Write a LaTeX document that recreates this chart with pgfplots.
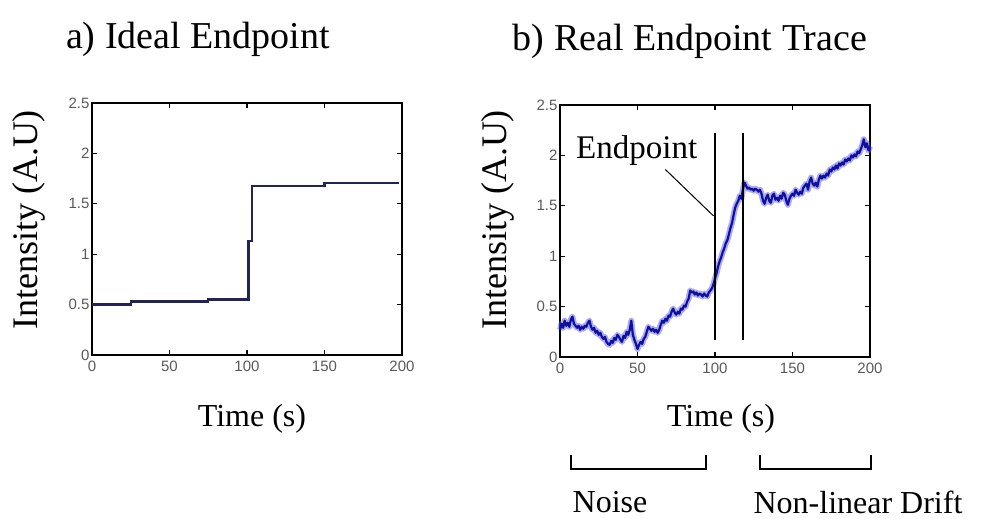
\documentclass[border=0pt]{standalone}
\usepackage{pgfplots}
\pgfplotsset{compat=1.18}
\usepackage{fontspec}
\setmainfont{Liberation Serif}
\newfontfamily\tickfont{Liberation Sans}

\definecolor{stepline}{RGB}{35,35,85}
\definecolor{tracecore}{RGB}{15,15,160}
\definecolor{tracehalo}{RGB}{90,90,230}

\pgfplotsset{
  endpointaxis/.style={
    scale only axis,
    width=310pt, height=252pt,
    anchor=south west,
    xmin=0, xmax=200, ymin=0, ymax=2.5,
    xtick={0,50,100,150,200},
    ytick={0,0.5,1,1.5,2,2.5},
    tick align=inside,
    major tick length=5pt,
    axis line style={line width=1.5pt},
    every tick/.style={line width=1.3pt, black},
    /pgf/number format/assume math mode=true,
    tick label style={font=\tickfont\fontsize{15}{15}\selectfont, text=black!65},
    xticklabel style={yshift=-2pt},
    yticklabel style={xshift=1pt},
    clip=false,
  }
}

\begin{document}
\begin{tikzpicture}[x=1pt,y=1pt]
\useasboundingbox (0,0) rectangle (986,519);

% panel a: ideal step response
\begin{axis}[endpointaxis, at={(92pt,164pt)}]
  \addplot[const plot, color=stepline, line width=2.2pt] coordinates {
    (0,0.50) (25,0.53) (75,0.55) (101,1.13) (103,1.68) (150,1.71) (198,1.71)
  };
\end{axis}

% panel b: measured trace
\begin{axis}[endpointaxis, at={(560pt,162pt)}]
  \pgfplotstableread{
x y
0 0.27
1 0.33
2 0.29
3 0.36
4 0.31
5 0.34
6 0.30
7 0.37
8 0.40
9 0.33
10 0.31
11 0.29
12 0.31
13 0.27
14 0.30
15 0.28
16 0.31
17 0.30
18 0.34
19 0.36
20 0.30
21 0.27
22 0.29
23 0.24
24 0.26
25 0.22
26 0.24
27 0.20
28 0.18
29 0.20
30 0.15
31 0.13
32 0.12
33 0.16
34 0.14
35 0.19
36 0.17
37 0.22
38 0.20
39 0.17
40 0.15
41 0.21
42 0.19
43 0.25
44 0.22
45 0.27
46 0.36
47 0.22
48 0.17
49 0.13
50 0.08
51 0.12
52 0.15
53 0.13
54 0.18
55 0.20
56 0.25
57 0.30
58 0.28
59 0.26
60 0.28
61 0.25
62 0.27
63 0.24
64 0.27
65 0.32
66 0.36
67 0.34
68 0.38
69 0.36
70 0.41
71 0.40
72 0.45
73 0.48
74 0.44
75 0.42
76 0.45
77 0.43
78 0.48
79 0.47
80 0.51
81 0.50
82 0.55
83 0.58
84 0.66
85 0.64
86 0.65
87 0.62
88 0.64
89 0.61
90 0.63
91 0.62
92 0.60
93 0.63
94 0.61
95 0.60
96 0.64
97 0.66
98 0.68
99 0.72
100 0.78
101 0.83
102 0.90
103 0.95
104 0.99
105 1.04
106 1.08
107 1.13
108 1.16
109 1.22
110 1.28
111 1.33
112 1.41
113 1.48
114 1.52
115 1.55
116 1.60
117 1.57
118 1.66
119 1.73
120 1.70
121 1.67
122 1.68
123 1.66
124 1.67
125 1.65
126 1.67
127 1.66
128 1.64
129 1.66
130 1.62
131 1.55
132 1.52
133 1.58
134 1.61
135 1.55
136 1.53
137 1.60
138 1.62
139 1.56
140 1.58
141 1.55
142 1.60
143 1.57
144 1.63
145 1.61
146 1.55
147 1.51
148 1.57
149 1.60
150 1.62
151 1.60
152 1.66
153 1.63
154 1.61
155 1.64
156 1.62
157 1.68
158 1.70
159 1.72
160 1.66
161 1.74
162 1.78
163 1.72
164 1.70
165 1.73
166 1.69
167 1.76
168 1.80
169 1.77
170 1.80
171 1.78
172 1.82
173 1.80
174 1.86
175 1.84
176 1.88
177 1.86
178 1.90
179 1.87
180 1.92
181 1.90
182 1.93
183 1.91
184 1.96
185 1.94
186 1.97
187 1.95
188 2.00
189 1.98
190 2.01
191 1.99
192 2.04
193 2.02
194 2.06
195 2.10
196 2.16
197 2.08
198 2.12
199 2.05
200 2.09
}\tracedata
  \addplot[color=tracehalo, line width=6pt, opacity=0.5, line join=round] table[x=x,y=y] {\tracedata};
  \addplot[color=tracecore, line width=2.2pt, line join=round] table[x=x,y=y] {\tracedata};
  % endpoint window markers
  \addplot[black, line width=1.4pt] coordinates {(100,0.17) (100,2.22)};
  \addplot[black, line width=1.4pt] coordinates {(118,0.17) (118,2.22)};
  \addplot[black, line width=1pt] coordinates {(68,1.86) (99,1.40)};
  \node[font=\fontsize{33}{33}\selectfont] at (axis cs:49.5,2.05) {Endpoint};
\end{axis}

% titles and axis labels
\node[font=\fontsize{38}{38}\selectfont] at (198,480) {a) Ideal Endpoint};
\node[font=\fontsize{38}{38}\selectfont] at (690,478) {b) Real Endpoint Trace};
\node[font=\fontsize{36}{36}\selectfont, rotate=90] at (29,299) {Intensity (A.U)};
\node[font=\fontsize{36}{36}\selectfont, rotate=90] at (498,299) {Intensity (A.U)};
\node[font=\fontsize{32}{32}\selectfont] at (252,100) {Time (s)};
\node[font=\fontsize{32}{32}\selectfont] at (721,100) {Time (s)};

% region brackets below panel b
\draw[black, line width=1.3pt] (571,64) -- (571,50) -- (706,50) -- (706,64);
\draw[black, line width=1.3pt] (760,64) -- (760,50) -- (871,50) -- (871,64);
\node[font=\fontsize{32}{32}\selectfont] at (610,17) {Noise};
\node[font=\fontsize{32}{32}\selectfont] at (858,17) {Non-linear Drift};
\end{tikzpicture}
\end{document}
